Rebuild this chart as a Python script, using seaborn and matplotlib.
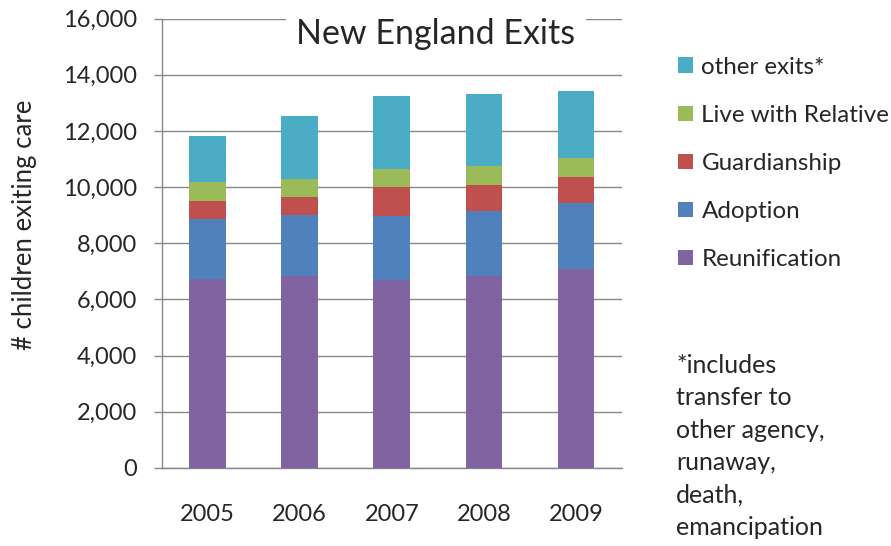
import matplotlib
matplotlib.use("Agg")
import matplotlib.pyplot as plt
import seaborn as sns
import pandas as pd
import numpy as np
from matplotlib.patches import Patch

years = ["2005", "2006", "2007", "2008", "2009"]
reunification = [6720, 6826, 6683, 6826, 7075]
adoption = [2147, 2172, 2279, 2315, 2350]
guardianship = [641, 642, 1045, 948, 949]
live_with_relative = [677, 640, 629, 665, 654]
other_exits = [1638, 2255, 2611, 2553, 2385]

series_names = ["Reunification", "Adoption", "Guardianship", "Live with Relative", "other exits*"]
series_vals = [reunification, adoption, guardianship, live_with_relative, other_exits]
colors = ["#8064A2", "#4F81BD", "#C0504D", "#9BBB59", "#4BACC6"]

sns.set_theme(style="white")
plt.rcParams['font.family'] = ['Lato', 'DejaVu Sans']

fig = plt.figure(figsize=(8.91, 5.46), dpi=100)
ax = fig.add_axes([0.1815, 0.1429, 0.5166, 0.8229])

cum = np.cumsum(np.array(series_vals), axis=0)
for i in range(len(series_names) - 1, -1, -1):
    df = pd.DataFrame({"year": years, "value": cum[i]})
    sns.barplot(data=df, x="year", y="value", color=colors[i], width=0.4,
                saturation=1, ax=ax, linewidth=0, zorder=3)

ax.set_ylim(0, 16000)
ax.set_xlim(-0.5, 4.5)
ax.set_yticks(np.arange(0, 16001, 2000))
ax.set_yticklabels([f"{v:,}" for v in range(0, 16001, 2000)], fontsize=17)
ax.set_xticks(range(5))
ax.set_xticklabels(years, fontsize=17)
ax.set_xticks(np.arange(-0.5, 5, 1), minor=True)
ax.tick_params(axis="x", which="major", length=0, pad=26)
ax.tick_params(axis="x", which="minor", length=6, width=1, color="#868686", direction="out")
ax.tick_params(axis="y", which="major", length=6, width=1, color="#868686", direction="out", left=True, pad=12)
ax.grid(axis="y", color="#868686", linewidth=1, zorder=0)
ax.set_axisbelow(True)
for s in ["top", "right"]:
    ax.spines[s].set_visible(False)
for s in ["left", "bottom"]:
    ax.spines[s].set_color("#868686")
    ax.spines[s].set_linewidth(1)
ax.set_xlabel("")
ax.set_ylabel("# children exiting care", fontsize=18.5)
ax.yaxis.set_label_coords(-0.271, 0.541)

ax.text(0.596, 0.966, "New England Exits", transform=ax.transAxes, fontsize=24.5,
        ha="center", va="center", zorder=5,
        bbox=dict(boxstyle="square,pad=0.3", facecolor="white", edgecolor="none"))

handles = [Patch(facecolor=colors[i], edgecolor="none") for i in range(len(series_names) - 1, -1, -1)]
labels = [series_names[i] for i in range(len(series_names) - 1, -1, -1)]
fig.legend(handles, labels, loc="upper left", bbox_to_anchor=(0.761, 0.896), frameon=False,
           fontsize=17.4, handlelength=0.62, handleheight=0.62, handletextpad=0.35,
           labelspacing=1.12, borderaxespad=0, borderpad=0)

fig.text(0.759, 1 - 354 / 546, "*includes\ntransfer to\nother agency,\nrunaway,\ndeath,\nemancipation",
         fontsize=18, ha="left", va="top", linespacing=1.49)

fig.savefig("out.png", dpi=100)
